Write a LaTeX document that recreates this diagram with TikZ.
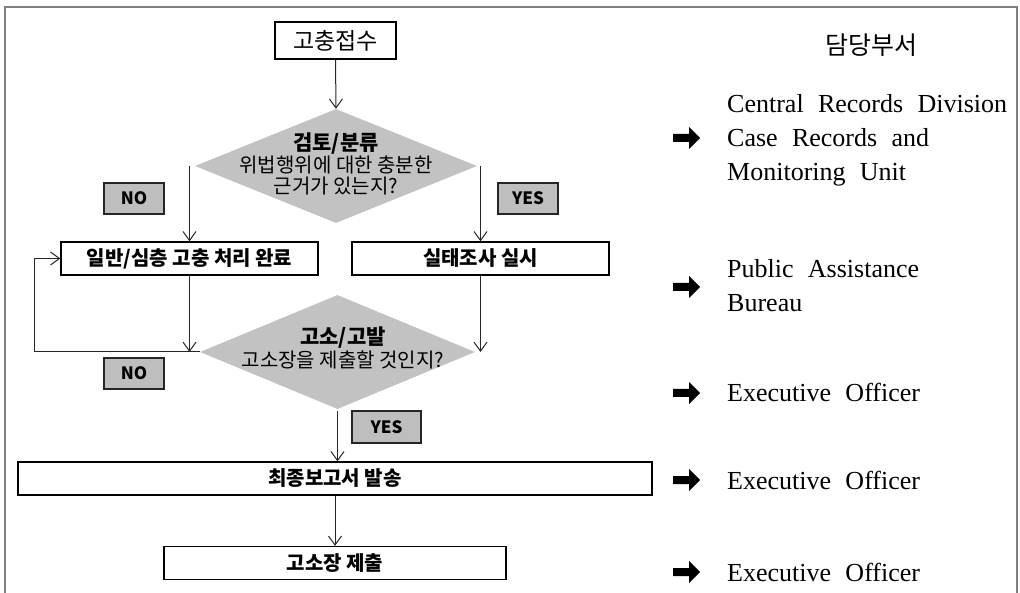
\documentclass[tikz,border=0pt]{standalone}
\usepackage{fontspec}
\setmainfont{Liberation Serif}
\newfontfamily\kr{Noto Sans CJK KR}
\usetikzlibrary{shapes.geometric,arrows.meta}
\definecolor{dfill}{HTML}{C2C2C2}
\definecolor{lfill}{HTML}{BEBEBE}
\definecolor{framec}{HTML}{808080}
\begin{document}
\begin{tikzpicture}[x=1pt,y=-1pt,
  box/.style={draw=black, line width=1.3pt, fill=white, inner sep=0pt, font=\kr\fontsize{20}{22}\selectfont\bfseries},
  dia/.style={diamond, fill=dfill, draw=none, inner sep=0pt},
  lab/.style={draw=black!85, line width=1.2pt, fill=lfill, inner sep=0pt, minimum height=31pt, font=\kr\fontsize{17}{19}\selectfont\bfseries},
  arr/.style={draw=black!85, line width=1pt, -{Straight Barb[length=9pt,width=13pt,line width=1pt]}},
  dept/.style={anchor=base west, inner sep=0pt, font=\fontsize{26}{34}\selectfont, execute at begin node={\spaceskip=0.55em plus 0.1em}},
]
\useasboundingbox (0,0) rectangle (1020,593);
\draw[framec, line width=2.5pt] (5,593) -- (5,7) -- (1017,7) -- (1017,593);

% nodes
\node[box, font=\kr\fontsize{23}{25}\selectfont, minimum width=121pt, minimum height=37pt] (start) at (335.5,40.5) {고충접수};
\node[dia, minimum width=282pt, minimum height=114pt] (d1) at (336,166) {};
\node[align=center, inner sep=0pt, font=\kr\fontsize{20}{21.5}\selectfont] (t1) at (336,164) {{\fontsize{21}{21.5}\selectfont\bfseries 검토/분류}\\위법행위에 대한 충분한\\근거가 있는지?};
\node[box, minimum width=257pt, minimum height=33pt] (b1) at (189.5,258.5) {일반/심층 고충 처리 완료};
\node[box, minimum width=257pt, minimum height=33pt] (b2) at (480.5,258.5) {실태조사 실시};
\node[dia, minimum width=275pt, minimum height=114pt] (d2) at (337.5,352) {};
\node[align=center, inner sep=0pt, font=\kr\fontsize{20}{23}\selectfont] (t2) at (343,348) {{\fontsize{21}{23}\selectfont\bfseries 고소/고발}\\고소장을 제출할 것인지?};
\node[box, minimum width=634pt, minimum height=33pt] (b3) at (335,478.5) {최종보고서 발송};
\node[box, minimum width=342pt, minimum height=33pt] (b4) at (335,563) {고소장 제출};

\node[lab, minimum width=60pt] (no1) at (134,198.5) {NO};
\node[lab, minimum width=60pt] (yes1) at (528,198.5) {YES};
\node[lab, minimum width=60pt] (no2) at (134,373.5) {NO};
\node[lab, minimum width=69pt, minimum height=32pt] (yes2) at (386.5,427) {YES};

% connectors
\draw[arr] (start.south) -- (d1.north);
\draw[arr] (d1.west -| b1.north) -- (b1.north);
\draw[arr] (d1.east -| b2.north) -- (b2.north);
\draw[arr] (b1.south) -- (b1.south |- d2.west);
\draw[arr] (b2.south) -- (b2.south |- d2.east);
\coordinate (lp1) at (34,352);
\coordinate (lp2) at (34,258.5);
\draw[arr] (d2.west) -- (lp1) -- (lp2) -- (b1.west);
\draw[arr] (d2.south) ++(0,2) -- (b3.north -| d2.south);
\draw[arr] (b3.south) -- (b4.north);

% right side
\node[inner sep=0pt, font=\kr\fontsize{25}{27}\selectfont] (hd) at (871,45) {담당부서};
\foreach \yy in {138,287,393,480,572}{
  \fill (673,\yy-4) -- (689,\yy-4) -- (689,\yy-11) -- (700,\yy) -- (689,\yy+11) -- (689,\yy+4) -- (673,\yy+4) -- cycle;
}
\node[dept] (r1a) at (727,113) {Central Records Division};
\node[dept] (r1b) at (727,147) {Case Records and};
\node[dept] (r1c) at (727,180.5) {Monitoring Unit};
\node[dept] (r2a) at (727,278) {Public Assistance};
\node[dept] (r2b) at (727,312) {Bureau};
\node[dept] (r3) at (727,402) {Executive Officer};
\node[dept] (r4) at (727,489) {Executive Officer};
\node[dept] (r5) at (727,581) {Executive Officer};
\end{tikzpicture}
\end{document}
